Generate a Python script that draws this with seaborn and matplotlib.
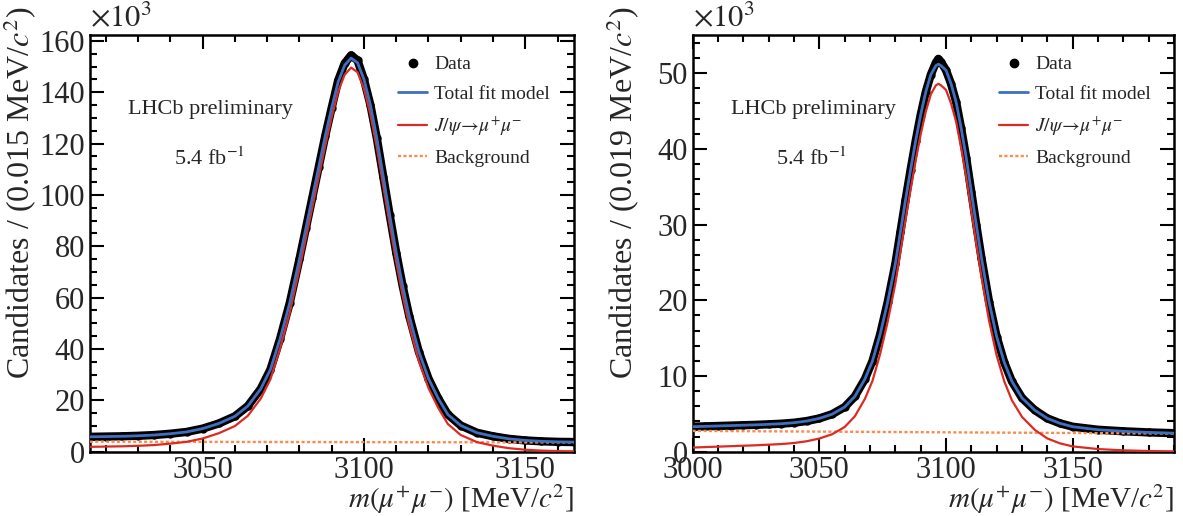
import matplotlib
matplotlib.use("Agg")
import matplotlib.pyplot as plt
import pandas as pd
import seaborn as sns
from matplotlib.lines import Line2D
from matplotlib.ticker import MultipleLocator

# values in units of 10^3 candidates per bin

# left panel: 0.015 MeV/c^2 bins
mass_a = [3015, 3020, 3025, 3030, 3035, 3040, 3045, 3050, 3055, 3060,
          3064, 3068, 3071, 3074, 3077, 3080, 3082, 3084, 3086, 3088,
          3090, 3092, 3094, 3096, 3098, 3100, 3102, 3104, 3106, 3108,
          3110, 3112, 3114, 3117, 3120, 3123, 3126, 3130, 3135, 3140,
          3145, 3150, 3155, 3160, 3165]
data_a = [5.8, 5.9, 6.0, 6.2, 6.5, 7.0, 7.7, 9.0, 11.0, 13.8,
          17.8, 24.5, 32.0, 44.0, 58.0, 75.0, 87.0, 99.0, 111.0, 123.0,
          134.0, 144.6, 151.2, 154.4, 152.4, 145.0, 135.0, 122.0, 107.0, 92.0,
          77.5, 64.5, 53.0, 39.0, 28.5, 20.8, 14.5, 10.2, 7.4, 6.0,
          5.0, 4.4, 4.05, 3.85, 3.75]
total_a = [5.8, 5.9, 6.0, 6.2, 6.5, 7.0, 7.7, 9.0, 11.0, 13.8,
           17.8, 24.5, 32.0, 44.0, 58.0, 75.0, 87.0, 99.0, 111.0, 123.0,
           134.0, 144.0, 150.5, 153.3, 151.5, 145.0, 135.0, 122.0, 107.0, 92.0,
           77.5, 64.5, 53.0, 39.0, 28.5, 20.8, 14.5, 10.2, 7.4, 6.0,
           5.0, 4.4, 4.05, 3.85, 3.75]
signal_a = [1.9, 2.0, 2.1, 2.3, 2.6, 3.15, 3.85, 5.15, 7.2, 10.0,
            14.0, 20.7, 28.2, 40.2, 54.2, 71.2, 83.2, 95.2, 107.2, 119.2,
            130.3, 140.3, 146.8, 149.6, 147.8, 141.3, 131.3, 118.3, 103.3, 88.3,
            73.8, 60.8, 49.3, 35.3, 24.8, 17.1, 10.8, 6.5, 3.75, 2.35,
            1.36, 0.77, 0.43, 0.24, 0.15]
bkg_mass_a = [3015, 3090, 3165]
bkg_a = [3.9, 3.75, 3.6]

# right panel: 0.019 MeV/c^2 bins
mass_b = [3000, 3005, 3010, 3015, 3020, 3025, 3030, 3035, 3040, 3045,
          3050, 3055, 3060, 3064, 3068, 3071, 3074, 3077, 3080, 3082,
          3084, 3086, 3088, 3090, 3092, 3094, 3096, 3097, 3098, 3100,
          3102, 3104, 3106, 3108, 3110, 3112, 3114, 3117, 3120, 3123,
          3126, 3130, 3135, 3140, 3145, 3150, 3160, 3170, 3180, 3190]
data_b = [3.3, 3.35, 3.4, 3.45, 3.5, 3.55, 3.62, 3.7, 3.83, 4.05,
          4.4, 4.95, 5.9, 7.3, 9.6, 12.0, 15.5, 19.8, 24.8, 29.0,
          33.2, 37.2, 41.0, 44.5, 47.5, 49.8, 51.4, 51.9, 51.5, 50.4,
          48.6, 46.2, 42.7, 38.8, 34.3, 29.9, 25.6, 19.8, 15.2, 11.8,
          9.3, 7.1, 5.5, 4.4, 3.75, 3.3, 2.9, 2.7, 2.55, 2.45]
total_b = [3.3, 3.35, 3.4, 3.45, 3.5, 3.55, 3.62, 3.7, 3.83, 4.05,
           4.4, 4.95, 5.9, 7.3, 9.6, 12.0, 15.5, 19.8, 24.8, 29.0,
           33.2, 37.2, 41.0, 44.5, 47.5, 49.8, 51.0, 51.2, 51.0, 50.4,
           48.6, 46.2, 42.7, 38.8, 34.3, 29.9, 25.6, 19.8, 15.2, 11.8,
           9.3, 7.1, 5.5, 4.4, 3.75, 3.3, 2.9, 2.7, 2.55, 2.45]
signal_b = [0.55, 0.61, 0.67, 0.73, 0.79, 0.85, 0.93, 1.01, 1.15, 1.38,
            1.74, 2.3, 3.26, 4.67, 6.98, 9.38, 12.9, 17.2, 22.2, 26.4,
            30.6, 34.6, 38.4, 41.9, 44.9, 47.2, 48.4, 48.6, 48.4, 47.8,
            46.0, 43.6, 40.1, 36.2, 31.8, 27.4, 23.1, 17.3, 12.7, 9.3,
            6.8, 4.6, 2.9, 1.75, 1.1, 0.7, 0.35, 0.18, 0.09, 0.04]
bkg_mass_b = [3000, 3095, 3190]
bkg_b = [2.75, 2.57, 2.40]

BLUE = "#3f70c0"
RED = "#dc2b22"
ORANGE = "#fb8a4c"

sns.set_style("ticks")
plt.rcParams["font.family"] = ["Liberation Serif", "DejaVu Serif"]
plt.rcParams["mathtext.fontset"] = "stix"

panels = [
    dict(rect=[0.0759, 0.1246, 0.409, 0.8076], mass=mass_a, data=data_a,
         total=total_a, signal=signal_a, bmass=bkg_mass_a, bkg=bkg_a,
         xlim=(3015, 3165), ylim=(0, 162.3), ymaj=20, ymin=5, width="0.015"),
    dict(rect=[0.5855, 0.1246, 0.4069, 0.8076], mass=mass_b, data=data_b,
         total=total_b, signal=signal_b, bmass=bkg_mass_b, bkg=bkg_b,
         xlim=(3000, 3190), ylim=(0, 55.05), ymaj=10, ymin=2, width="0.019"),
]

fig = plt.figure(figsize=(11.83, 5.16), dpi=100)

for p in panels:
    ax = fig.add_axes(p["rect"])
    df = pd.DataFrame({"mass": p["mass"], "data": p["data"],
                       "total": p["total"], "signal": p["signal"]})
    bdf = pd.DataFrame({"mass": p["bmass"], "bkg": p["bkg"]})

    sns.lineplot(data=df, x="mass", y="data", color="black", lw=6.0,
                 marker="o", markersize=6, markeredgewidth=0,
                 solid_capstyle="round", estimator=None, sort=False, ax=ax, zorder=2)
    sns.lineplot(data=bdf, x="mass", y="bkg", color=ORANGE, lw=1.7,
                 linestyle=(0, (1.3, 1.0)), estimator=None, ax=ax, zorder=3)
    sns.lineplot(data=df, x="mass", y="signal", color=RED, lw=1.6,
                 estimator=None, ax=ax, zorder=4)
    sns.lineplot(data=df, x="mass", y="total", color=BLUE, lw=2.0,
                 estimator=None, ax=ax, zorder=5)

    ax.set_xlim(*p["xlim"])
    ax.set_ylim(*p["ylim"])
    ax.xaxis.set_major_locator(MultipleLocator(50))
    ax.xaxis.set_minor_locator(MultipleLocator(10))
    ax.yaxis.set_major_locator(MultipleLocator(p["ymaj"]))
    ax.yaxis.set_minor_locator(MultipleLocator(p["ymin"]))
    ax.tick_params(which="both", direction="in", top=True, right=True,
                   width=1.5, labelsize=22, color="black")
    ax.tick_params(which="major", length=10)
    ax.tick_params(which="minor", length=5)
    ax.tick_params(axis="x", pad=3)
    ax.tick_params(axis="y", pad=3.5)
    for s in ax.spines.values():
        s.set_linewidth(1.8)
        s.set_color("black")

    ax.set_xlabel(r"$m(\mu^{+}\mu^{-})$ [MeV/$c^{2}$]", fontsize=21, loc="right")
    ax.xaxis.set_label_coords(1.0, -0.074)
    ax.set_ylabel("Candidates / (" + p["width"] + r" MeV/$c^{2}$)", fontsize=23, loc="top")
    ax.yaxis.set_label_coords(-0.105, 1.067)

    ax.text(0.0, 1.005, r"$\times10^{3}$", transform=ax.transAxes,
            ha="left", va="bottom", fontsize=22)
    ax.text(0.25, 0.82, "LHCb preliminary", transform=ax.transAxes,
            ha="center", va="center", fontsize=16)
    ax.text(0.248, 0.704, r"5.4 fb$^{-1}$", transform=ax.transAxes,
            ha="center", va="center", fontsize=16)

    handles = [
        Line2D([], [], marker="o", ls="none", color="black", markersize=6),
        Line2D([], [], color=BLUE, lw=2.0),
        Line2D([], [], color=RED, lw=1.6),
        Line2D([], [], color=ORANGE, lw=1.7, linestyle=(0, (1.3, 1.0))),
    ]
    labels = ["Data", "Total fit model",
              r"$J/\psi\!\rightarrow\!\mu^{+}\mu^{-}$", "Background"]
    ax.legend(handles, labels, loc="upper left", bbox_to_anchor=(0.637, 0.95),
              frameon=False, fontsize=14, handlelength=1.5, handletextpad=0.35,
              labelspacing=0.6, borderpad=0, borderaxespad=0)

fig.savefig("out.png", dpi=100)
